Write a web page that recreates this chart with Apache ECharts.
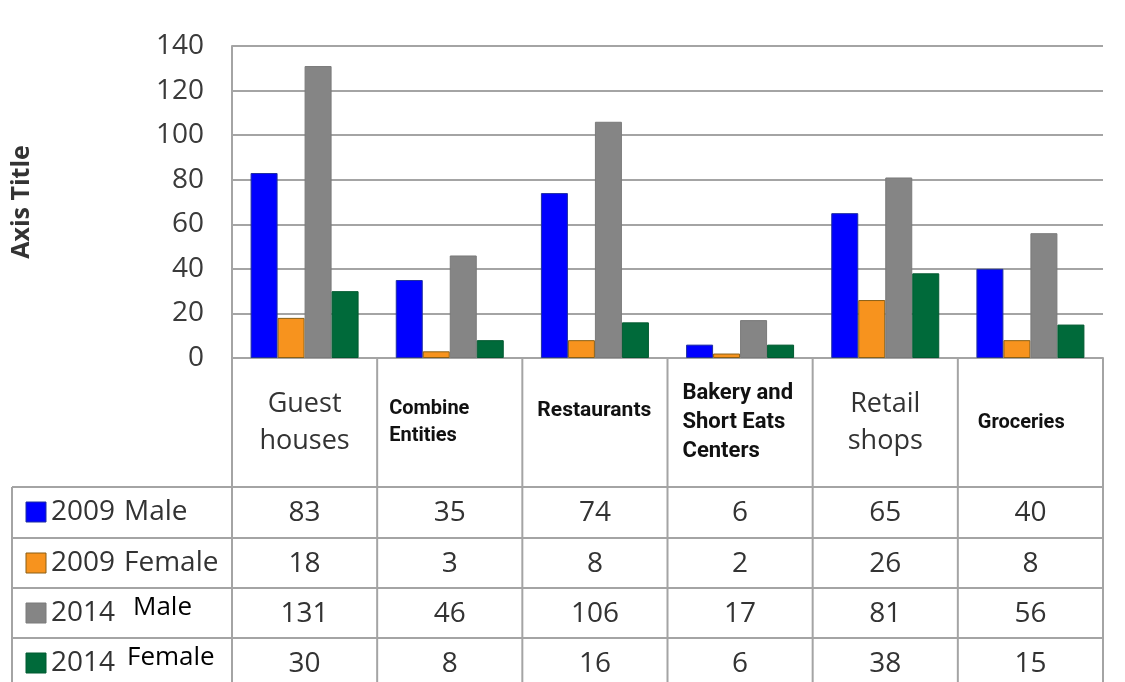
<!DOCTYPE html>
<html><head><meta charset="utf-8">
<script src="https://cdn.jsdelivr.net/npm/echarts@6/dist/echarts.min.js"></script>
<style>html,body{margin:0;padding:0;background:#fff}#c{width:1125px;height:682px}</style>
</head><body><div id="c"></div>
<script>
// ---- data ----
const categories = ['Guest houses', 'Combine Entities', 'Restaurants', 'Bakery and Short Eats Centers', 'Retail shops', 'Groceries'];
const categoryLines = [['Guest', 'houses'], ['Combine', 'Entities'], ['Restaurants'], ['Bakery and', 'Short Eats', 'Centers'], ['Retail', 'shops'], ['Groceries']];
const seriesYears = ['2009', '2009', '2014', '2014'];
const seriesGenders = ['Male', 'Female', 'Male', 'Female'];
const male2009 = [83, 35, 74, 6, 65, 40];
const female2009 = [18, 3, 8, 2, 26, 8];
const male2014 = [131, 46, 106, 17, 81, 56];
const female2014 = [30, 8, 16, 6, 38, 15];
const yTicks = [0, 20, 40, 60, 80, 100, 120, 140];
const yAxisTitle = 'Axis Title';

// ---- styles ----
const seriesData = [male2009, female2009, male2014, female2014];
const colors = ['#0000ff', '#f7931e', '#858585', '#006a3a'];
const borders = ['#1f2fa0', '#8a5f14', '#7a7a7a', '#005a30'];
const lineColor = '#a4a4a4';
const regFont = '"Open Sans", sans-serif';
const boldFont = '"Liberation Sans Narrow", "Roboto", sans-serif';
const catStyles = [
  {bold: false, align: 'center', size: 27, lh: 37},
  {bold: true, align: 'left', size: 20, lh: 27, pad: 12},
  {bold: true, align: 'left', size: 21, lh: 29, pad: 15, dy: -12},
  {bold: true, align: 'left', size: 22, lh: 29, pad: 15},
  {bold: false, align: 'center', size: 27, lh: 37},
  {bold: true, align: 'left', size: 20, lh: 27, pad: 20}
];

const chart = echarts.init(document.getElementById('c'));
const GL = 232, GR = 22, GT = 46, GB = 324;
chart.setOption({
  animation: false,
  grid: {left: GL, right: GR, top: GT, bottom: GB, containLabel: false},
  xAxis: {
    type: 'category', data: categories,
    axisLine: {show: true, lineStyle: {color: lineColor, width: 2}},
    axisTick: {show: false}, axisLabel: {show: false}, splitLine: {show: false}
  },
  yAxis: {
    type: 'value', min: yTicks[0], max: yTicks[yTicks.length - 1], interval: 20,
    axisLine: {show: true, lineStyle: {color: lineColor, width: 2}},
    axisTick: {show: false},
    axisLabel: {fontFamily: regFont, fontSize: 28, color: '#3a3a3a', margin: 28},
    splitLine: {lineStyle: {color: lineColor, width: 2}}
  },
  series: seriesData.map((d, i) => ({
    type: 'bar', name: seriesYears[i] + ' ' + seriesGenders[i], data: d,
    barWidth: 27, barGap: '0%',
    itemStyle: {color: colors[i], borderColor: borders[i], borderWidth: 1}
  }))
});

// ---- data table drawn with graphic elements, positioned from the axes ----
const y0 = chart.convertToPixel({yAxisIndex: 0}, 0);
const colW = (1125 - GL - GR) / categories.length;
const rowTops = [487, 538, 588, 638];
const rowH = 50;
const tableBottom = 682;
const g = [];
const line = (x1, y1, x2, y2) => g.push({type: 'line', shape: {x1, y1, x2, y2}, style: {stroke: lineColor, lineWidth: 2}, z: 10});
for (let i = 0; i <= categories.length; i++) {
  const x = GL + i * colW;
  line(x, y0, x, tableBottom);
}
line(12, rowTops[0], 12, tableBottom);
rowTops.forEach(t => line(12, t, GL + categories.length * colW, t));

categories.forEach((c, i) => {
  const cx = chart.convertToPixel({xAxisIndex: 0}, c);
  const s = catStyles[i];
  const left = GL + i * colW;
  const midY = (y0 + rowTops[0]) / 2 + (s.dy || 0);
  g.push({
    type: 'text', z: 11,
    x: s.align === 'center' ? cx : left + s.pad, y: midY,
    style: {
      text: categoryLines[i].join('\n'),
      font: (s.bold ? 'bold ' : '') + s.size + 'px ' + (s.bold ? boldFont : regFont),
      fill: s.bold ? '#111' : '#333',
      align: s.align, verticalAlign: 'middle', lineHeight: s.lh
    }
  });
});

seriesData.forEach((d, r) => {
  const cy = rowTops[r] + rowH / 2;
  g.push({type: 'rect', z: 11, shape: {x: 26, y: cy - 10, width: 20, height: 20}, style: {fill: colors[r], stroke: borders[r], lineWidth: 1}});
  g.push({type: 'text', z: 11, x: 51, y: cy, style: {text: seriesYears[r], font: '28px ' + regFont, fill: '#333', verticalAlign: 'middle'}});
  const raised = seriesYears[r] === '2014';
  g.push({type: 'text', z: 11, x: raised ? (seriesGenders[r] === 'Male' ? 133 : 127) : 124, y: cy - (raised ? 5 : 0),
    style: {text: seriesGenders[r], font: (raised ? '26px ' : '28px ') + regFont, fill: raised ? '#000' : '#333', verticalAlign: 'middle'}});
  d.forEach((v, i) => {
    const cx = chart.convertToPixel({xAxisIndex: 0}, categories[i]);
    g.push({type: 'text', z: 11, x: cx, y: cy + 1, style: {text: String(v), font: '28px ' + regFont, fill: '#333', align: 'center', verticalAlign: 'middle'}});
  });
});

g.push({type: 'text', z: 11, x: 22, y: (GT + y0) / 2, rotation: Math.PI / 2,
  style: {text: yAxisTitle, font: 'bold 25px ' + regFont, fill: '#333', align: 'center', verticalAlign: 'middle'}});

chart.setOption({graphic: {elements: g}});
</script>
</body></html>
